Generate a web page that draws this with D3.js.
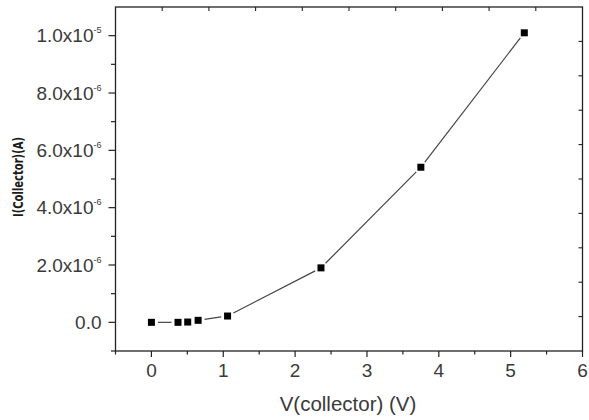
<!DOCTYPE html>
<html>
<head>
<meta charset="utf-8">
<script src="https://cdn.jsdelivr.net/npm/d3@7"></script>
<style>
  html, body { margin: 0; padding: 0; background: #fff; }
  svg { display: block; }
  .tick-label { font-family: "Liberation Sans", Arial, sans-serif; fill: #3a3a3a; }
</style>
</head>
<body>
<svg id="chart" width="589" height="420"></svg>
<script>
// data
const voltage = [0, 0.37, 0.505, 0.65, 1.06, 2.36, 3.75, 5.19];
const current = [0, 0, 0.01e-6, 0.07e-6, 0.22e-6, 1.90e-6, 5.41e-6, 10.1e-6];
const xTicks = [0, 1, 2, 3, 4, 5, 6];
const yTicks = [0, 2e-6, 4e-6, 6e-6, 8e-6, 1e-5];
const yTickMantissa = ['0.0', '2.0', '4.0', '6.0', '8.0', '1.0'];
const yTickExp = ['', '-6', '-6', '-6', '-6', '-5'];

const margin = { left: 115.5, top: 7, right: 6.5, bottom: 69 };
const W = 589, H = 420;
const iw = W - margin.left - margin.right;
const ih = H - margin.top - margin.bottom;

const svg = d3.select('#chart');
const g = svg.append('g').attr('transform', `translate(${margin.left},${margin.top})`);

const x = d3.scaleLinear().domain([-0.5, 6]).range([0, iw]);
const y = d3.scaleLinear().domain([-1e-6, 1.1e-5]).range([ih, 0]);

// ── frame ──
g.append('rect')
  .attr('width', iw).attr('height', ih)
  .attr('fill', 'none').attr('stroke', '#222').attr('stroke-width', 1.3);

// ── bottom axis: major + minor ticks, outward ──
const bottomAxis = g.append('g').attr('transform', `translate(0,${ih})`);
bottomAxis.selectAll('line.minor')
  .data(d3.range(-0.5, 6.01, 1))
  .join('line')
  .attr('class', 'minor')
  .attr('x1', d => x(d)).attr('x2', d => x(d))
  .attr('y1', 0).attr('y2', 3.5)
  .attr('stroke', '#222').attr('stroke-width', 1.2);
bottomAxis.selectAll('line.major')
  .data(xTicks)
  .join('line')
  .attr('class', 'major')
  .attr('x1', d => x(d)).attr('x2', d => x(d))
  .attr('y1', 0).attr('y2', 6)
  .attr('stroke', '#222').attr('stroke-width', 1.2);
bottomAxis.selectAll('text')
  .data(xTicks)
  .join('text')
  .attr('class', 'tick-label')
  .attr('x', d => x(d)).attr('y', 26)
  .attr('text-anchor', 'middle')
  .attr('font-size', 19)
  .text(d => d);

// ── left axis ──
const leftAxis = g.append('g');
leftAxis.selectAll('line.minor')
  .data(d3.range(-1e-6, 1.1e-5, 2e-6))
  .join('line')
  .attr('class', 'minor')
  .attr('x1', -4.5).attr('x2', 0)
  .attr('y1', d => y(d)).attr('y2', d => y(d))
  .attr('stroke', '#222').attr('stroke-width', 1.2);
leftAxis.selectAll('line.major')
  .data(yTicks)
  .join('line')
  .attr('class', 'major')
  .attr('x1', -7).attr('x2', 0)
  .attr('y1', d => y(d)).attr('y2', d => y(d))
  .attr('stroke', '#222').attr('stroke-width', 1.2);

const yl = leftAxis.selectAll('text')
  .data(yTicks)
  .join('text')
  .attr('class', 'tick-label')
  .attr('x', -14).attr('y', d => y(d) + 6.8)
  .attr('text-anchor', 'end')
  .attr('font-size', 19);
yl.each(function (d, i) {
  const t = d3.select(this);
  if (yTickExp[i]) {
    t.append('tspan').text(yTickMantissa[i] + 'x10');
    t.append('tspan').attr('font-size', 9).attr('dy', -9).text(yTickExp[i]);
  } else {
    t.text(yTickMantissa[i]);
  }
});

// ── top and right axes: inward ticks, no labels ──
const topScale = d3.scaleLinear().domain([0, 10]).range([0, iw]);
g.append('g').selectAll('line')
  .data(d3.range(1, 10))
  .join('line')
  .attr('x1', d => topScale(d)).attr('x2', d => topScale(d))
  .attr('y1', 0).attr('y2', 4)
  .attr('stroke', '#222').attr('stroke-width', 1.1);
const rightScale = d3.scaleLinear().domain([0, 10]).range([ih, 0]);
g.append('g').selectAll('line')
  .data(d3.range(1, 10))
  .join('line')
  .attr('x1', iw - 4).attr('x2', iw)
  .attr('y1', d => rightScale(d)).attr('y2', d => rightScale(d))
  .attr('stroke', '#222').attr('stroke-width', 1.1);

// ── data line with gaps at the markers ──
const pts = voltage.map((v, i) => [x(v), y(current[i])]);
const gap = 6.5;
const segs = d3.pairs(pts).map(([a, b]) => {
  const dx = b[0] - a[0], dy = b[1] - a[1];
  const len = Math.hypot(dx, dy);
  if (len <= gap * 2) return null;
  const ux = dx / len, uy = dy / len;
  return [a[0] + ux * gap, a[1] + uy * gap, b[0] - ux * gap, b[1] - uy * gap];
}).filter(Boolean);

g.append('g').selectAll('line')
  .data(segs)
  .join('line')
  .attr('x1', d => d[0]).attr('y1', d => d[1])
  .attr('x2', d => d[2]).attr('y2', d => d[3])
  .attr('stroke', '#444').attr('stroke-width', 1.2);

const ms = 7;
g.append('g').selectAll('rect')
  .data(pts)
  .join('rect')
  .attr('x', d => d[0] - ms / 2).attr('y', d => d[1] - ms / 2)
  .attr('width', ms).attr('height', ms)
  .attr('fill', '#000');

// ── axis titles ──
svg.append('text')
  .attr('x', 348).attr('y', 411)
  .attr('text-anchor', 'middle')
  .attr('font-family', '"Liberation Sans", Arial, sans-serif')
  .attr('font-size', 20.5)
  .attr('fill', '#3a3a3a')
  .text('V(collector) (V)');

svg.append('text')
  .attr('transform', 'translate(23,177) rotate(-90)')
  .attr('text-anchor', 'middle')
  .attr('font-family', '"DejaVu Sans", Verdana, sans-serif')
  .attr('font-weight', 'bold')
  .attr('font-size', 14)
  .attr('textLength', 80)
  .attr('lengthAdjust', 'spacingAndGlyphs')
  .attr('fill', '#1a1a1a')
  .text('I(Collector)(A)');
</script>
</body>
</html>
